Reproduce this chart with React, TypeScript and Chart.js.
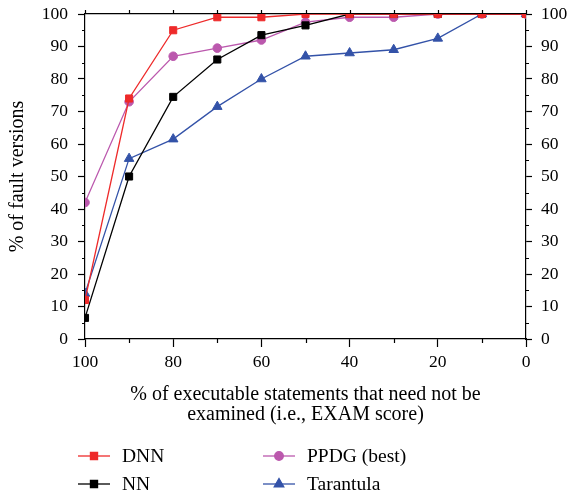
import React, { useEffect, useRef } from 'react';
import { Chart, registerables } from 'chart.js';
import { drawPoint } from 'chart.js/helpers';

Chart.register(...registerables);

const xValues = [100, 90, 80, 70, 60, 50, 40, 30, 20, 10, 0];
const dnnValues = [12, 74, 95, 99, 99, 100, 100, 100, 100, 100, 100];
const nnValues = [6.5, 50, 74.5, 86, 93.5, 96.5, 100, 100, 100, 100, 100];
const ppdgValues = [42, 73, 87, 89.5, 92, 97.5, 99, 99, 100, 100, 100];
const tarantulaValues = [14, 55.5, 61.5, 71.5, 80, 87, 88, 89, 92.5, 100, 100];

const seriesNames = ['DNN', 'NN', 'PPDG (best)', 'Tarantula'];
const xMajorTicks = [100, 80, 60, 40, 20, 0];
const xMinorTicks = [90, 70, 50, 30, 10];
const yMinorTicks = [5, 15, 25, 35, 45, 55, 65, 75, 85, 95];

const FONT = "'Liberation Serif', 'Times New Roman', serif";

const toPoints = (ys: number[]) => xValues.map((x, i) => ({ x, y: ys[i] }));

const minorTickPlugin = {
  id: 'minorTicks',
  afterDraw(chart: any) {
    const ctx = chart.ctx;
    const ca = chart.chartArea;
    const xs = chart.scales.x;
    const ys = chart.scales.y;
    ctx.save();
    ctx.strokeStyle = '#000';
    ctx.lineWidth = 1.2;
    ctx.beginPath();
    xMinorTicks.forEach((v) => {
      const px = Math.round(xs.getPixelForValue(v)) + 0.5;
      ctx.moveTo(px, ca.bottom);
      ctx.lineTo(px, ca.bottom + 4);
    });
    xValues.forEach((v) => {
      const px = Math.round(xs.getPixelForValue(v)) + 0.5;
      ctx.moveTo(px, ca.top);
      ctx.lineTo(px, ca.top - 4);
    });
    yMinorTicks.forEach((v) => {
      const py = Math.round(ys.getPixelForValue(v)) + 0.5;
      ctx.moveTo(ca.left, py);
      ctx.lineTo(ca.left - 3, py);
      ctx.moveTo(ca.right, py);
      ctx.lineTo(ca.right + 3, py);
    });
    ctx.stroke();
    ctx.restore();
  },
};

const legendPlugin = {
  id: 'customLegend',
  afterDraw(chart: any) {
    const ctx = chart.ctx;
    const cols = [78, 263];
    const rows = [456, 484];
    chart.data.datasets.forEach((ds: any, i: number) => {
      const x = cols[Math.floor(i / 2)];
      const y = rows[i % 2];
      ctx.save();
      ctx.strokeStyle = ds.borderColor;
      ctx.lineWidth = 1.3;
      ctx.beginPath();
      ctx.moveTo(x, y);
      ctx.lineTo(x + 32, y);
      ctx.stroke();
      ctx.fillStyle = ds.pointBackgroundColor;
      ctx.strokeStyle = ds.pointBorderColor;
      drawPoint(ctx, { pointStyle: ds.pointStyle, rotation: 0, radius: ds.pointRadius, borderWidth: 1 }, x + 16, y);
      ctx.fillStyle = '#000';
      ctx.font = `19.5px ${FONT}`;
      ctx.textAlign = 'left';
      ctx.textBaseline = 'middle';
      ctx.fillText(ds.label, x + 44, y + 1);
      ctx.restore();
    });
  },
};

const fixVertical = (width: number) => (scale: any) => {
  scale.width = width;
  scale.paddingTop = 0;
  scale.paddingBottom = 0;
};

export default function App() {
  const canvasRef = useRef<HTMLCanvasElement | null>(null);

  useEffect(() => {
    const canvas = canvasRef.current;
    if (!canvas) return;
    const mk = (label: string, data: number[], color: string, style: string, radius: number) => ({
      label,
      data: toPoints(data),
      borderColor: color,
      backgroundColor: color,
      pointBackgroundColor: color,
      pointBorderColor: color,
      pointStyle: style,
      pointRadius: radius,
      pointBorderWidth: 1,
      borderWidth: 1.3,
      tension: 0,
    });
    const chart = new Chart(canvas, {
      type: 'line',
      data: {
        datasets: [
          mk(seriesNames[0], dnnValues, '#ee2a2a', 'rect', 5),
          mk(seriesNames[1], nnValues, '#000000', 'rect', 5),
          mk(seriesNames[2], ppdgValues, '#bb58ad', 'circle', 4.3),
          mk(seriesNames[3], tarantulaValues, '#3352a8', 'triangle', 5.5),
        ] as any,
      },
      options: {
        animation: false,
        responsive: false,
        maintainAspectRatio: false,
        layout: { padding: { left: 0, right: 0, top: 14, bottom: 65 } },
        plugins: { legend: { display: false }, tooltip: { enabled: false } },
        scales: {
          x: {
            type: 'linear',
            position: 'bottom',
            reverse: true,
            min: 0,
            max: 100,
            afterBuildTicks: (scale: any) => {
              scale.ticks = xMajorTicks.map((v) => ({ value: v }));
            },
            afterFit: (scale: any) => {
              scale.height = 90;
              scale.paddingLeft = 0;
              scale.paddingRight = 0;
            },
            grid: { drawOnChartArea: false, tickLength: 8, tickColor: '#000', tickWidth: 1.2 },
            border: { color: '#000', width: 1.2 },
            ticks: { color: '#000', font: { family: FONT, size: 17.5 }, padding: 5, maxRotation: 0 },
            title: {
              display: true,
              text: ['% of executable statements that need not be', 'examined (i.e., EXAM score)'],
              color: '#000',
              font: { family: FONT, size: 20, lineHeight: 1.0 },
              padding: { top: 0, bottom: 4 },
            },
          },
          xTop: {
            type: 'linear',
            position: 'top',
            reverse: true,
            min: 0,
            max: 100,
            afterFit: (scale: any) => {
              scale.height = 0;
              scale.paddingLeft = 0;
              scale.paddingRight = 0;
            },
            grid: { display: false, drawOnChartArea: false, drawTicks: false },
            border: { color: '#000', width: 1.2 },
            ticks: { display: false },
          },
          y: {
            type: 'linear',
            position: 'left',
            min: 0,
            max: 100,
            afterFit: fixVertical(85),
            grid: { drawOnChartArea: false, tickLength: 7, tickColor: '#000', tickWidth: 1.2 },
            border: { color: '#000', width: 1.2 },
            ticks: { stepSize: 10, color: '#000', font: { family: FONT, size: 17.5 }, padding: 10 },
            title: {
              display: true,
              text: '% of fault versions',
              color: '#000',
              font: { family: FONT, size: 20, lineHeight: 1.0 },
              padding: { top: 8, bottom: 0 },
            },
          },
          yRight: {
            type: 'linear',
            position: 'right',
            min: 0,
            max: 100,
            afterFit: fixVertical(46),
            grid: { drawOnChartArea: false, tickLength: 6, tickColor: '#000', tickWidth: 1.2 },
            border: { color: '#000', width: 1.2 },
            ticks: { stepSize: 10, color: '#000', font: { family: FONT, size: 17.5 }, padding: 9 },
          },
        },
      } as any,
      plugins: [minorTickPlugin, legendPlugin],
    });
    return () => chart.destroy();
  }, []);

  return (
    <div style={{ position: 'fixed', left: 0, top: 0, width: 572, height: 494, background: '#fff' }}>
      <canvas ref={canvasRef} width={572} height={494} style={{ width: 572, height: 494, display: 'block' }} />
    </div>
  );
}
